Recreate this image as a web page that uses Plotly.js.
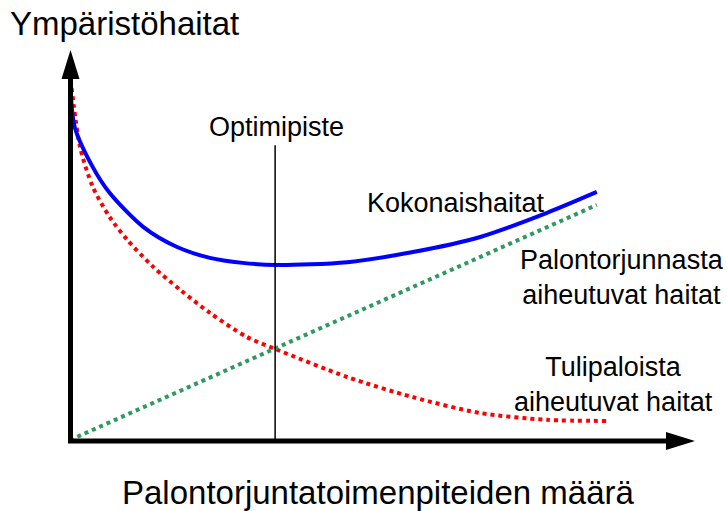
<!DOCTYPE html>
<html>
<head>
<meta charset="utf-8">
<script src="https://cdn.plot.ly/plotly-3.0.1.min.js"></script>
<style>body{margin:0;background:#fff}</style>
</head>
<body>
<div id="chart" style="width:727px;height:511px"></div>
<script>
// values (x = toimenpiteiden määrä, y = haitat)
const xTuli = [0.03, 0.19, 0.43, 0.75, 1.08, 1.57, 2.08, 2.64, 3.34, 3.87, 5.23, 6.47, 7.74, 9.0, 10.13];
const yTuli = [9.78, 8.14, 7.03, 6.19, 5.56, 4.81, 4.17, 3.53, 2.86, 2.53, 1.75, 1.19, 0.75, 0.56, 0.53];

const xPalo = [0, 9.94];
const yPalo = [0, 6.53];

const xKok = [0, 0.09, 0.43, 0.75, 1.38, 2.02, 2.64, 3.26, 3.89, 5.23, 6.47, 7.74, 9.0, 9.94];
const yKok = [10.0, 8.69, 7.58, 6.86, 5.92, 5.36, 5.06, 4.92, 4.86, 4.94, 5.22, 5.64, 6.31, 6.89];

const xOptimi = 3.87;
const yOptimiTop = 8.19;

// pixel helpers for labels/decoration only
const px = (p) => (p - 70) / 53;
const py = (p) => (440 - p) / 36;

const font = "Liberation Sans, Arial, sans-serif";

const traces = [
  {
    x: xTuli, y: yTuli, type: "scatter", mode: "lines",
    line: { color: "#ff0000", width: 4, dash: "4px,4px", shape: "spline", smoothing: 0.8 },
  },
  {
    x: xPalo, y: yPalo, type: "scatter", mode: "lines",
    line: { color: "#2e9960", width: 4, dash: "4px,4px" },
  },
  {
    x: xKok, y: yKok, type: "scatter", mode: "lines",
    line: { color: "#0000ff", width: 4, shape: "spline", smoothing: 0.8 },
  },
  {
    x: [xOptimi, xOptimi], y: [0, yOptimiTop], type: "scatter", mode: "lines",
    line: { color: "#000000", width: 1.5 },
  },
];

const shapes = [
  // y axis + arrow
  { type: "line", x0: px(70.5), x1: px(70.5), y0: py(441), y1: py(79), line: { color: "#000", width: 5 } },
  { type: "path", path: `M ${px(61.5)} ${py(79)} L ${px(79.5)} ${py(79)} L ${px(70.5)} ${py(50)} Z`,
    fillcolor: "#000", line: { width: 0 } },
  // x axis + arrow
  { type: "line", x0: px(68), x1: px(666), y0: py(441), y1: py(441), line: { color: "#000", width: 5 } },
  { type: "path", path: `M ${px(666)} ${py(432)} L ${px(666)} ${py(450)} L ${px(695)} ${py(441)} Z`,
    fillcolor: "#000", line: { width: 0 } },
];

const lbl = (text, x, y, size) => ({
  text: text, x: px(x), y: py(y), showarrow: false,
  font: { family: font, size: size, color: "#000" },
  xanchor: "center", yanchor: "middle",
});

const annotations = [
  lbl("Ympäristöhaitat", 124, 23, 33),
  lbl("Palontorjuntatoimenpiteiden määrä", 378, 492, 33),
  lbl("Optimipiste", 276, 127, 27),
  lbl("Kokonaishaitat", 456, 203, 27),
  lbl("Palontorjunnasta<br>aiheutuvat haitat", 622, 277, 27),
  lbl("Tulipaloista<br>aiheutuvat haitat", 613, 384, 27),
];

const layout = {
  width: 727, height: 511,
  margin: { l: 0, r: 0, t: 0, b: 0 },
  paper_bgcolor: "#fff", plot_bgcolor: "#fff",
  showlegend: false,
  xaxis: { range: [px(0), px(727)], visible: false, fixedrange: true },
  yaxis: { range: [py(511), py(0)], visible: false, fixedrange: true },
  shapes: shapes,
  annotations: annotations,
};

Plotly.newPlot("chart", traces, layout, { staticPlot: true });
</script>
</body>
</html>
